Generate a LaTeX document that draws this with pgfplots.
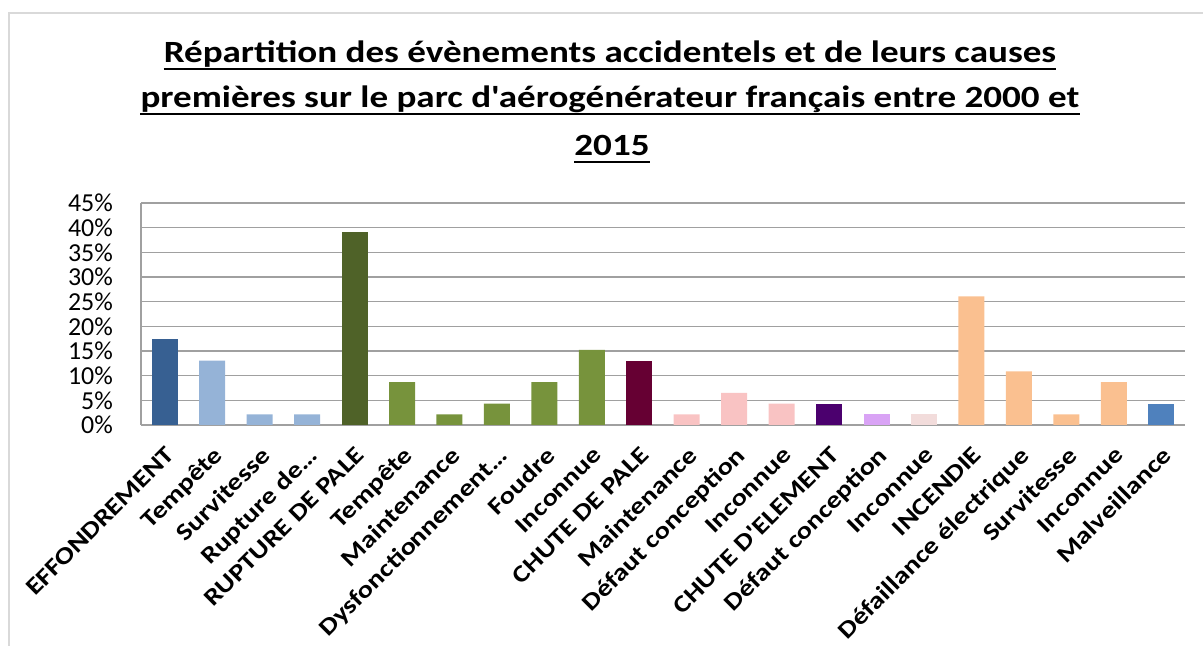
\documentclass[border=0pt]{standalone}
\usepackage{fontspec}
\setmainfont{Carlito}[Ligatures=TeXReset]
\newfontfamily\stretchfont{Carlito}[FakeStretch=1.2, Ligatures=TeXReset]
\newfontfamily\labelfont{Carlito}[FakeStretch=1.2, Ligatures=TeXReset]
\usepackage{pgfplots}
\pgfplotsset{compat=1.18}
\definecolor{c1}{HTML}{376092}
\definecolor{c2}{HTML}{95B3D7}
\definecolor{c3}{HTML}{4F6228}
\definecolor{c4}{HTML}{77933C}
\definecolor{c5}{HTML}{660033}
\definecolor{c6}{HTML}{F9C3C3}
\definecolor{c7}{HTML}{4B006E}
\definecolor{c8}{HTML}{D9A3F5}
\definecolor{c9}{HTML}{F2DCDB}
\definecolor{c10}{HTML}{FAC090}
\definecolor{c11}{HTML}{4F81BD}
\definecolor{gridc}{HTML}{A0A0A0}
\definecolor{framec}{HTML}{D9D9D9}
\begin{document}
\begin{tikzpicture}[x=1bp,y=1bp]
\path[use as bounding box] (0,0) rectangle (1203,646);
\draw[framec, line width=1.5bp] (9,-5) -- (9,633) -- (1210,633);
\begin{axis}[
  at={(141bp,221bp)}, anchor=south west,
  scale only axis, width=1044bp, height=222bp,
  xmin=-0.5, xmax=21.5, ymin=0, ymax=45,
  axis x line*=bottom, axis y line*=left,
  axis line style={gridc, line width=1.5bp},
  ymajorgrids, grid style={gridc, line width=1.5bp},
  major tick length=0pt,
  ytick={0,5,...,45},
  yticklabels={0\%,5\%,10\%,15\%,20\%,25\%,30\%,35\%,40\%,45\%},
  yticklabel style={font=\fontsize{26}{26}\selectfont, anchor=east, inner sep=0pt, xshift=-28bp},
  xtick={0,...,21},
  xticklabels={EFFONDREMENT,Tempête,Survitesse,Rupture de…,RUPTURE DE PALE,Tempête,Maintenance,Dysfonctionnement…,Foudre,Inconnue,CHUTE DE PALE,Maintenance,Défaut conception,Inconnue,CHUTE D'ELEMENT,Défaut conception,Inconnue,INCENDIE,Défaillance électrique,Survitesse,Inconnue,Malveillance},
  xticklabel style={font=\labelfont\bfseries\fontsize{24}{24}\selectfont, inner sep=0pt, yshift=-20bp, xshift=0bp, rotate=45, anchor=north east},
  ybar, bar width=26bp,
  clip=false,
]
\addplot[fill=c1, draw=none, bar shift=0pt] coordinates {(0,17.39)};
\addplot[fill=c2, draw=none, bar shift=0pt] coordinates {(1,13.04) (2,2.17) (3,2.17)};
\addplot[fill=c3, draw=none, bar shift=0pt] coordinates {(4,39.13)};
\addplot[fill=c4, draw=none, bar shift=0pt] coordinates {(5,8.70) (6,2.17) (7,4.35) (8,8.70) (9,15.22)};
\addplot[fill=c5, draw=none, bar shift=0pt] coordinates {(10,13.04)};
\addplot[fill=c6, draw=none, bar shift=0pt] coordinates {(11,2.17) (12,6.52) (13,4.35)};
\addplot[fill=c7, draw=none, bar shift=0pt] coordinates {(14,4.35)};
\addplot[fill=c8, draw=none, bar shift=0pt] coordinates {(15,2.17)};
\addplot[fill=c9, draw=none, bar shift=0pt] coordinates {(16,2.17)};
\addplot[fill=c10, draw=none, bar shift=0pt] coordinates {(17,26.09) (18,10.87) (19,2.17) (20,8.70)};
\addplot[fill=c11, draw=none, bar shift=0pt] coordinates {(21,4.35)};
\end{axis}
\begin{scope}[every node/.style={inner sep=0pt, anchor=base, font=\stretchfont\bfseries\fontsize{31}{31}\selectfont}]
\node (t1) at (610,583) {Répartition des évènements accidentels et de leurs causes};
\node (t2) at (610,538) {premières sur le parc d'aérogénérateur français entre 2000 et};
\node (t3) at (612,490) {2015};
\foreach \t in {t1,t2,t3} \draw[line width=2bp] ([yshift=-6bp]\t.base west) -- ([yshift=-6bp]\t.base east);
\end{scope}
\end{tikzpicture}
\end{document}
